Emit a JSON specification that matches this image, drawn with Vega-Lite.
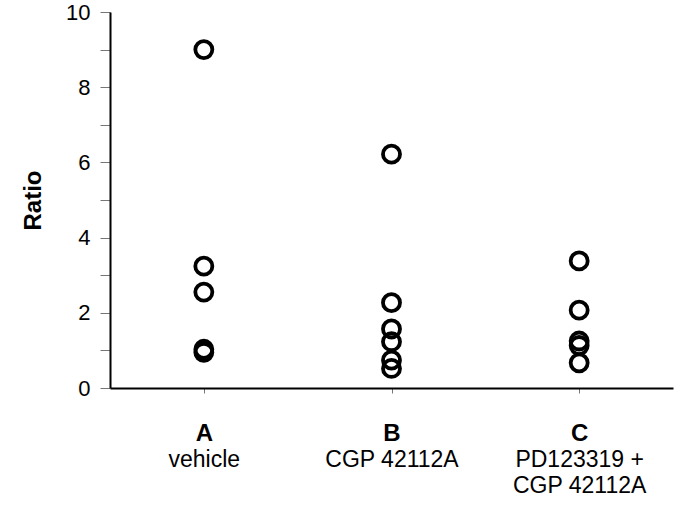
{
  "$schema": "https://vega.github.io/schema/vega-lite/v6.json",
  "autosize": "none",
  "padding": {"left": 110, "top": 12, "right": 12, "bottom": 142},
  "width": 563,
  "height": 376,
  "background": "white",
  "config": {
    "view": {"stroke": null},
    "font": "Liberation Sans",
    "axis": {"grid": false, "labelFont": "Liberation Sans", "titleFont": "Liberation Sans"}
  },
  "data": {
    "values": [
      {"group": "A", "ratio": 9.0},
      {"group": "A", "ratio": 3.24},
      {"group": "A", "ratio": 2.55},
      {"group": "A", "ratio": 1.03},
      {"group": "A", "ratio": 0.95},
      {"group": "B", "ratio": 6.22},
      {"group": "B", "ratio": 2.27},
      {"group": "B", "ratio": 1.57},
      {"group": "B", "ratio": 1.23},
      {"group": "B", "ratio": 0.74},
      {"group": "B", "ratio": 0.52},
      {"group": "C", "ratio": 3.38},
      {"group": "C", "ratio": 2.07},
      {"group": "C", "ratio": 1.25},
      {"group": "C", "ratio": 1.13},
      {"group": "C", "ratio": 0.67}
    ]
  },
  "encoding": {
    "y": {
      "field": "ratio",
      "type": "quantitative",
      "scale": {"domain": [0, 10], "nice": false, "zero": true},
      "axis": {
        "title": "Ratio",
        "titleFontSize": 24,
        "titleFontWeight": "bold",
        "titleColor": "black",
        "titlePadding": 20,
        "values": [0, 1, 2, 3, 4, 5, 6, 7, 8, 9, 10],
        "labelExpr": "datum.value % 2 == 0 ? datum.label : ''",
        "labelFontSize": 22,
        "labelColor": "black",
        "labelPadding": 10,
        "tickSize": 10,
        "tickColor": "#777777",
        "tickWidth": 1,
        "domainColor": "black",
        "domainWidth": 2
      }
    }
  },
  "layer": [
    {
      "mark": {"type": "point", "shape": "circle", "filled": false, "stroke": "black", "strokeWidth": 3.8, "size": 290, "opacity": 1},
      "encoding": {
        "x": {
          "field": "group",
          "type": "nominal",
          "scale": {"type": "point", "padding": 0.5},
          "axis": {
            "orient": "bottom",
            "title": null,
            "labelAngle": 0,
            "labelFontSize": 24,
            "labelFontWeight": "bold",
            "labelColor": "black",
            "labelBaseline": "top",
            "labelPadding": 28,
            "tickSize": 5,
            "tickColor": "#777777",
            "domainColor": "black",
            "domainWidth": 2
          }
        }
      }
    },
    {
      "mark": {"type": "point", "opacity": 0},
      "encoding": {
        "x": {
          "field": "group",
          "type": "nominal",
          "axis": {
            "orient": "bottom",
            "title": null,
            "labelAngle": 0,
            "labelFontSize": 23,
            "labelColor": "black",
            "labelBaseline": "middle",
            "labelLineHeight": 26,
            "labelExpr": "datum.value == 'A' ? 'vehicle' : datum.value == 'B' ? 'CGP 42112A' : ['PD123319 +', 'CGP 42112A']",
            "ticks": false,
            "domain": false,
            "labelPadding": 71
          }
        }
      }
    }
  ],
  "resolve": {"axis": {"x": "independent"}}
}
